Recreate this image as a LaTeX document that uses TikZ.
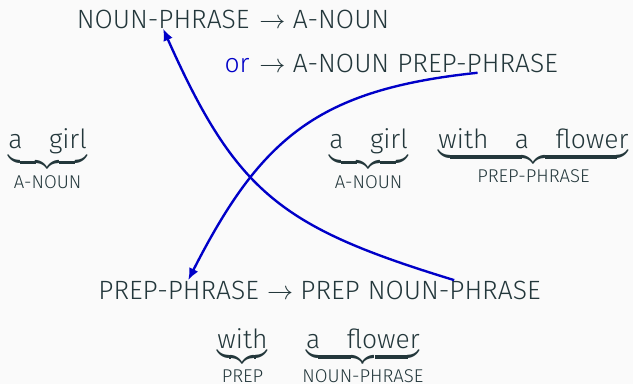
\documentclass[tikz,border=0pt]{standalone}
\usepackage{amsmath}
\usepackage{fontspec}
\setmainfont{Fira Sans}[UprightFont=* Light, BoldFont=* Medium]
\usetikzlibrary{positioning,arrows.meta}
\definecolor{maindark}{HTML}{23373B}
\definecolor{linkblue}{RGB}{0,0,200}
\definecolor{bgcol}{HTML}{FAFAFA}
\tikzset{
  every node/.style={inner sep=0pt, text=maindark},
  conn/.style={-{Latex[length=5pt,width=4.2pt]}, line width=1pt, draw=linkblue},
}
\begin{document}
\begin{tikzpicture}[x=0.42pt, y=0.42pt, font=\fontsize{11.1}{13}\selectfont]
\fill[bgcol] (0,0) rectangle (633,384);
\useasboundingbox (0,0) rectangle (633,384);

% --- grammar rules for noun phrases ---
\node[anchor=base east] (np1) at (250,356) {NOUN-PHRASE};
\node[anchor=base west] (an1) at (259,356) {$\rightarrow$ A-NOUN};
\node[anchor=base east, text=linkblue] (or2) at (250,312) {or};
\node[anchor=base west] (an2) at (259,312) {$\rightarrow$ A-NOUN};
\node[base right=0.3em of an2] (pp2) {PREP-PHRASE};

% --- examples ---
\node[anchor=base west] (ag1) at (8,236)
  {$\underbrace{\text{a}\quad\text{girl}}_{\text{A-NOUN}}$};
\node[anchor=base west] (ag2) at (329,236)
  {$\underbrace{\text{a}\quad\text{girl}}_{\text{A-NOUN}}$};
\node[anchor=base west] (waf) at (438,236)
  {$\underbrace{\text{with}\quad\text{a}\quad\text{flower}}_{\text{PREP-PHRASE}}$};

% --- grammar rule for prepositional phrases ---
\node[anchor=base west] (pp3) at (98,85) {PREP-PHRASE};
\node[base right=0.3em of pp3] (ar3) {$\rightarrow$ PREP};
\node[base right=0.3em of ar3] (np3) {NOUN-PHRASE};

\node[anchor=base west] (w3) at (217,36)
  {$\underbrace{\text{with}}_{\text{PREP}}$};
\node[anchor=base west] (af3) at (302,36)
  {$\underbrace{\text{a}\quad\text{flower}}_{\text{NOUN-PHRASE}}$};

% recursion arrows
\draw[conn] (np3.north) to[out=163, in=-66, looseness=1.2] (np1.south);
\draw[conn] (pp2.south) to[out=186, in=63, looseness=1.15] ([xshift=4]pp3.north);
\end{tikzpicture}
\end{document}
